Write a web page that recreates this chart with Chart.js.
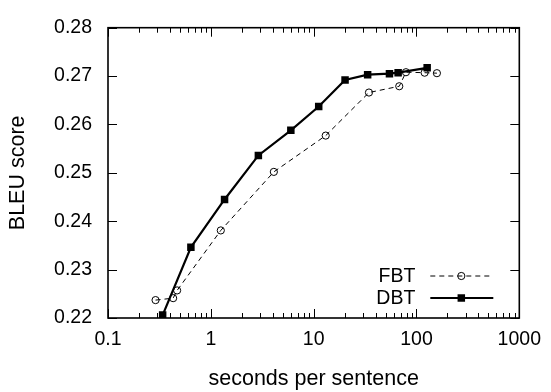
<!DOCTYPE html>
<html>
<head>
<meta charset="utf-8">
<script src="https://cdn.jsdelivr.net/npm/chart.js@4"></script>
<style>
html,body{margin:0;padding:0;background:#fff;}
#wrap{width:551px;height:392px;position:relative;}
</style>
</head>
<body>
<div id="wrap"><canvas id="c" width="551" height="392"></canvas></div>
<script>
const seriesNames = ['FBT', 'DBT'];
const fbtX = [0.29, 0.43, 0.47, 1.25, 4.1, 13.1, 34.5, 68, 79, 120, 158];
const fbtY = [0.2237, 0.2241, 0.2257, 0.2381, 0.2502, 0.2577, 0.2666, 0.2679, 0.2708, 0.2707, 0.2706];
const dbtX = [0.34, 0.64, 1.36, 2.9, 6.0, 11.2, 20.2, 33.5, 54.6, 66.3, 127];
const dbtY = [0.2206, 0.2346, 0.2445, 0.2536, 0.2588, 0.2637, 0.2692, 0.2703, 0.2705, 0.2707, 0.2717];
const xMajor = [0.1, 1, 10, 100, 1000];
const xTickLabels = ['0.1', '1', '10', '100', '1000'];
const yTicks = [0.22, 0.23, 0.24, 0.25, 0.26, 0.27, 0.28];
const yTickLabels = ['0.22', '0.23', '0.24', '0.25', '0.26', '0.27', '0.28'];
const xTitle = 'seconds per sentence';
const yTitle = 'BLEU score';

const FONT = '"Liberation Sans", Arial, Helvetica, sans-serif';
const FS = 19.5;
const FT = 21.5;

const toPts = (xs, ys) => xs.map((x, i) => ({x: x, y: ys[i]}));

// tick positions (values only; pixels come from the scales)
const xTickVals = [];
xMajor.forEach((m, i) => {
  xTickVals.push({v: m, major: true});
  if (i < xMajor.length - 1) for (let k = 2; k <= 9; k++) xTickVals.push({v: m * k, major: false});
});

const frameTicks = {
  id: 'frameTicks',
  afterDraw(chart) {
    const ctx = chart.ctx, a = chart.chartArea;
    const xs = chart.scales.x, ys = chart.scales.y;
    ctx.save();
    ctx.setLineDash([]);
    ctx.strokeStyle = '#000';
    ctx.lineWidth = 1;
    ctx.beginPath();
    xTickVals.forEach(t => {
      const px = Math.round(xs.getPixelForValue(t.v)) + 0.5;
      const len = t.major ? 9 : 5;
      ctx.moveTo(px, a.bottom); ctx.lineTo(px, a.bottom - len);
      ctx.moveTo(px, a.top); ctx.lineTo(px, a.top + len);
    });
    yTicks.forEach(v => {
      const py = Math.round(ys.getPixelForValue(v)) + 0.5;
      ctx.moveTo(a.left, py); ctx.lineTo(a.left + 9, py);
      ctx.moveTo(a.right, py); ctx.lineTo(a.right - 9, py);
    });
    ctx.stroke();
    ctx.lineWidth = 1.6;
    ctx.strokeRect(a.left, a.top, a.right - a.left, a.bottom - a.top);
    ctx.restore();
  }
};

const keyLegend = {
  id: 'keyLegend',
  afterDraw(chart) {
    const ctx = chart.ctx, a = chart.chartArea;
    ctx.save();
    ctx.font = FS + 'px ' + FONT;
    ctx.fillStyle = '#000';
    ctx.textAlign = 'right';
    ctx.textBaseline = 'middle';
    chart.data.datasets.forEach((ds, i) => {
      const y = a.bottom - 42 + i * 22;
      ctx.fillText(ds.label, a.right - 104, y + 1);
      ctx.save();
      ctx.strokeStyle = ds.borderColor;
      ctx.lineWidth = ds.borderWidth;
      ctx.setLineDash(ds.borderDash || []);
      ctx.beginPath();
      ctx.moveTo(a.right - 89, y); ctx.lineTo(a.right - 26, y);
      ctx.stroke();
      ctx.restore();
      ctx.save();
      ctx.setLineDash([]);
      ctx.fillStyle = ds.pointBackgroundColor;
      ctx.strokeStyle = ds.pointBorderColor;
      ctx.lineWidth = ds.pointBorderWidth;
      Chart.helpers.drawPoint(ctx, {pointStyle: ds.pointStyle, radius: ds.pointRadius, rotation: 0, borderWidth: ds.pointBorderWidth}, a.right - 58, y);
      ctx.restore();
    });
    ctx.restore();
  }
};

new Chart(document.getElementById('c'), {
  type: 'line',
  data: {
    datasets: [
      {
        label: seriesNames[0],
        data: toPts(fbtX, fbtY),
        borderColor: '#000',
        borderWidth: 1,
        borderDash: [5, 4],
        pointStyle: 'circle',
        pointRadius: 3.6,
        pointBackgroundColor: 'rgba(0,0,0,0)',
        pointBorderColor: '#000',
        pointBorderWidth: 1,
        tension: 0
      },
      {
        label: seriesNames[1],
        data: toPts(dbtX, dbtY),
        borderColor: '#000',
        borderWidth: 2.2,
        pointStyle: 'rect',
        pointRadius: 5.3,
        pointBackgroundColor: '#000',
        pointBorderColor: '#000',
        pointBorderWidth: 0,
        tension: 0
      }
    ]
  },
  options: {
    responsive: false,
    animation: false,
    devicePixelRatio: 1,
    layout: {padding: {top: 17, right: 29, left: 0, bottom: 0}},
    plugins: {legend: {display: false}, tooltip: {enabled: false}},
    scales: {
      x: {
        type: 'logarithmic',
        min: 0.1, max: 1000,
        afterBuildTicks(scale) {
          scale.ticks = xTickVals.map(t => ({value: t.v, major: t.major}));
        },
        afterFit(scale) { scale.height = 74; },
        grid: {display: false, drawTicks: false},
        border: {display: false},
        ticks: {
          autoSkip: false, maxRotation: 0, padding: 10,
          color: '#000', font: {family: FONT, size: FS},
          callback(v) {
            const i = xMajor.findIndex(m => Math.abs(m - v) / m < 1e-6);
            return i >= 0 ? xTickLabels[i] : '';
          }
        },
        title: {display: true, text: xTitle, color: '#000', font: {family: FONT, size: FT}, padding: {top: 4, bottom: 0}}
      },
      y: {
        min: 0.22, max: 0.28,
        afterBuildTicks(scale) { scale.ticks = yTicks.map(v => ({value: v})); },
        afterFit(scale) { scale.width = 108; },
        grid: {display: false, drawTicks: false},
        border: {display: false},
        ticks: {
          padding: 16, color: '#000', font: {family: FONT, size: FS},
          callback(v) {
            const i = yTicks.findIndex(m => Math.abs(m - v) < 1e-9);
            return i >= 0 ? yTickLabels[i] : '';
          }
        },
        title: {display: true, text: yTitle, color: '#000', font: {family: FONT, size: FT}, padding: {top: 5, bottom: 0}}
      }
    }
  },
  plugins: [frameTicks, keyLegend]
});
</script>
</body>
</html>
